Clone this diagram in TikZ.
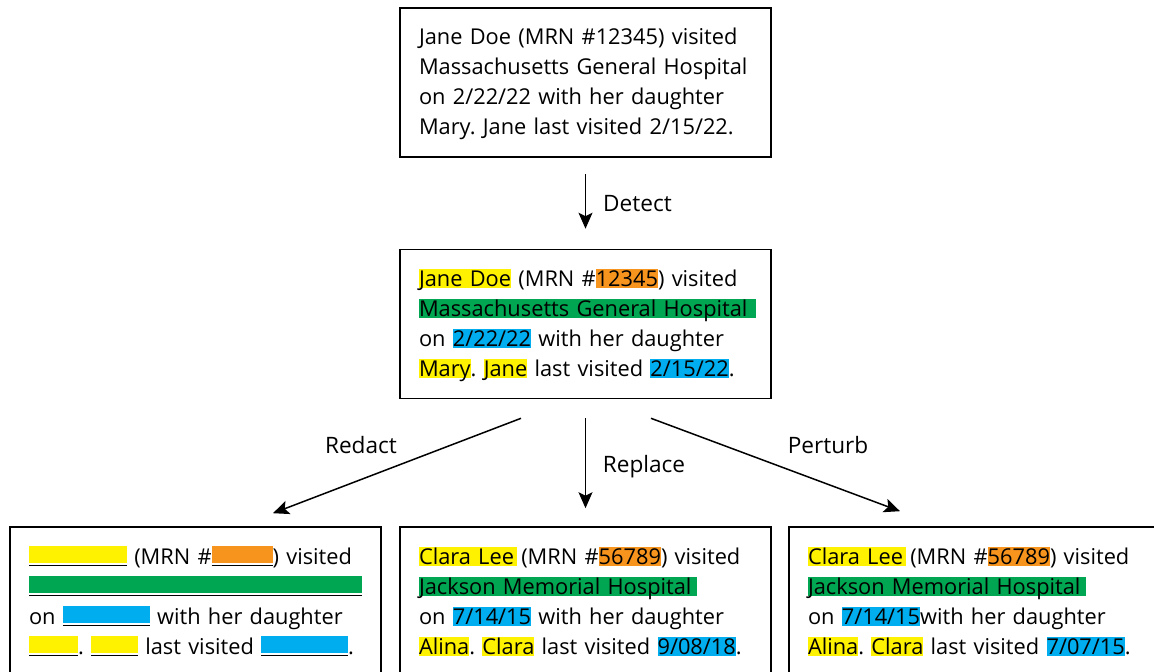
\documentclass[tikz,border=0pt]{standalone}
\usepackage{fontspec}
\setmainfont{Open Sans}
\usetikzlibrary{arrows.meta}
\frenchspacing

\definecolor{hlyellow}{HTML}{FFF200}
\definecolor{hlorange}{HTML}{F7941D}
\definecolor{hlgreen}{HTML}{00A651}
\definecolor{hlblue}{HTML}{00AEEF}

% highlighted span: coloured band behind the text, optional extra width on the right
\newsavebox\hlbox
\newcommand\hl[3][0pt]{\leavevmode\sbox\hlbox{#3}\rlap{\textcolor{#2}{\rule[-1.8pt]{\dimexpr\wd\hlbox+#1\relax}{18.8pt}}}\usebox\hlbox}
% redacted span: coloured bar with a thin underline
\newcommand\redact[2]{\leavevmode\rlap{\textcolor{#1}{\rule[0.7pt]{#2}{17.6pt}}}\rule[-2.2pt]{#2}{0.9pt}}
% struts fixing the height of the first line and the depth of the last line
\newcommand\firstln{\rule{0pt}{20pt}}
\newcommand\lastln{\rule[-5pt]{0pt}{5pt}}

\tikzset{
  notebox/.style={draw=black, line width=1.6pt, rectangle, inner xsep=19pt, inner ysep=0pt,
    text width=333pt, align=left, minimum width=371pt, minimum height=149pt,
    font=\fontsize{21.8}{30}\selectfont},
  arr/.style={-{Stealth[length=16pt,width=14pt,inset=3.5pt]}, line width=1.5pt},
  lbl/.style={inner sep=0pt, font=\fontsize{22.6}{26}\selectfont}
}

\begin{document}
\begin{tikzpicture}[x=1pt, y=-1pt]
\useasboundingbox (0,0) rectangle (1154,672);

\node[notebox] (orig) at (585.5,82.5) {\firstln Jane Doe (MRN \#12345) visited\\
Massachusetts General Hospital\\
on 2/22/22 with her daughter\\
Mary. Jane last visited 2/15/22.\lastln};

\node[notebox] (mid) at (585.5,324) {\firstln\hl{hlyellow}{Jane Doe} (MRN \#\hl{hlorange}{12345}) visited\\
\hl[9pt]{hlgreen}{Massachusetts General Hospital}\\
on \hl{hlblue}{2/22/22} with her daughter\\
\hl{hlyellow}{Mary}. \hl{hlyellow}{Jane} last visited \hl{hlblue}{2/15/22}.\lastln};

\node[notebox] (redact) at (195.5,601.5) {\firstln\redact{hlyellow}{98pt} (MRN \#\redact{hlorange}{61pt}) visited\\
\redact{hlgreen}{333pt}\\
on \redact{hlblue}{87pt} with her daughter\\
\redact{hlyellow}{49pt}. \redact{hlyellow}{47pt} last visited \redact{hlblue}{87pt}.\lastln};

\node[notebox] (replace) at (585.5,601.5) {\firstln\hl[3pt]{hlyellow}{Clara Lee} (MRN \#\hl{hlorange}{56789}) visited\\
\hl[5pt]{hlgreen}{Jackson Memorial Hospital}\\
on \hl{hlblue}{7/14/15} with her daughter\\
\hl{hlyellow}{Alina}. \hl{hlyellow}{Clara} last visited \hl{hlblue}{9/08/18}.\lastln};

\node[notebox] (perturb) at (974.5,601.5) {\firstln\hl[3pt]{hlyellow}{Clara Lee} (MRN \#\hl{hlorange}{56789}) visited\\
\hl[5pt]{hlgreen}{Jackson Memorial Hospital}\\
on \hl{hlblue}{7/14/15}with her daughter\\
\hl{hlyellow}{Alina}. \hl{hlyellow}{Clara} last visited \hl{hlblue}{7/07/15}.\lastln};

% connectors
\draw[arr, shorten <=16pt, shorten >=20pt] (orig.south) -- (mid.north);
\coordinate (redactFrom) at ([xshift=-64.5pt,yshift=-19pt]mid.south);
\coordinate (redactTo) at ([xshift=77.5pt,yshift=13pt]redact.north);
\coordinate (perturbFrom) at ([xshift=65.5pt,yshift=-19pt]mid.south);
\coordinate (perturbTo) at ([xshift=-74.5pt,yshift=15pt]perturb.north);
\draw[arr] (redactFrom) -- (redactTo);
\draw[arr, shorten <=19pt, shorten >=18pt] (mid.south) -- (replace.north);
\draw[arr] (perturbFrom) -- (perturbTo);

% step labels
\node[lbl, anchor=base west] (detectLbl) at (603,211) {Detect};
\node[lbl, anchor=base] (redactLbl) at (361,453) {Redact};
\node[lbl, anchor=base] (replaceLbl) at (644,472) {Replace};
\node[lbl, anchor=base] (perturbLbl) at (828,453) {Perturb};
\end{tikzpicture}
\end{document}
